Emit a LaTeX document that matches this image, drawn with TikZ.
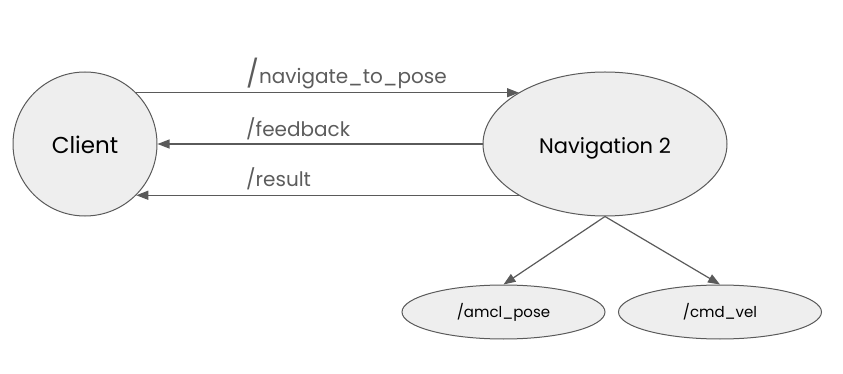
\documentclass[tikz,border=0pt]{standalone}
\usepackage{fontspec}
\setmainfont{Poppins}
\usetikzlibrary{arrows.meta,positioning,shapes.geometric}

\definecolor{linegray}{HTML}{5A5A5A}
\definecolor{nodefill}{HTML}{EEEEEE}
\definecolor{msggray}{HTML}{5C5C5C}

\tikzset{
  proc/.style={draw=linegray,fill=nodefill,line width=1pt,inner sep=0pt},
  topic/.style={proc,ellipse,minimum width=203pt,minimum height=54pt,
    font=\fontsize{15}{18}\selectfont},
  msg/.style={text=msggray,font=\fontsize{20}{24}\selectfont,inner sep=0pt,
    anchor=base west}
}

\begin{document}
\begin{tikzpicture}[x=1pt,y=-1pt,on grid,>={Triangle[length=12pt,width=9pt]}]
\useasboundingbox (0,0) rectangle (843,374);
\node[proc,circle,minimum size=144pt,text height=20pt,text depth=0pt,font=\fontsize{23}{26}\selectfont] (Client) at (85,144) {Client};
\node[proc,ellipse,minimum width=244pt,minimum height=144pt,text height=18.6pt,text depth=0pt,font=\fontsize{21}{24}\selectfont] (Nav) [right=520pt of Client] {Navigation 2};
\node[topic] (amcl) [below left=168pt and 101.5pt of Nav] {/amcl\_pose};
\node[topic] (cmd) [below right=168pt and 115pt of Nav] {/cmd\_vel};
% action topics
\node[msg] (goal) at (246,84) {{\fontsize{27}{27}\selectfont /}navigate\_to\_pose};
\node[msg] (fb) at (246,137) {/feedback};
\node[msg] (res) at (246,186) {/result};
\path[->,every edge/.style={draw=linegray,line width=1.2pt}]
(Client.45) edge (Client.45 -| Nav.149.3)
(Nav.west) edge (Client.east)
(Client.-45 -| Nav.-149.3) edge (Client.-45)
(Nav.south) edge (amcl.north) edge (cmd.north);
\end{tikzpicture}
\end{document}
